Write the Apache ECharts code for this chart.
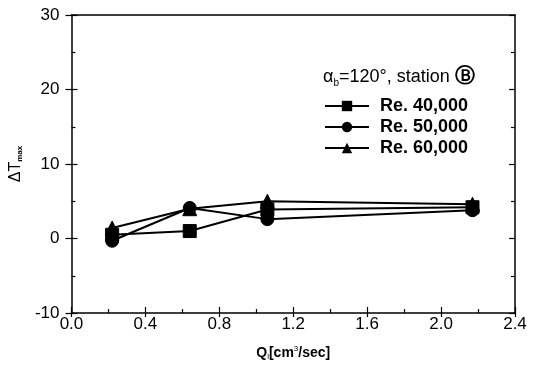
<!DOCTYPE html>
<html>
<head>
<meta charset="utf-8">
<script src="https://cdn.jsdelivr.net/npm/echarts@6/dist/echarts.min.js"></script>
<style>
  html, body { margin: 0; padding: 0; background: #fff; }
  #chart { width: 540px; height: 370px; }
</style>
</head>
<body>
<div id="chart"></div>
<script>
// Injection flow rate Q_l [cm^3/sec] at the measured stations
const flowRates = [0.22, 0.64, 1.06, 2.17];

// Maximum temperature difference for each Reynolds number
const re40000 = [0.5, 1.0, 3.9, 4.2];
const re50000 = [-0.3, 4.1, 2.6, 3.8];
const re60000 = [1.4, 4.0, 5.0, 4.6];

const seriesNames = ['Re. 40,000', 'Re. 50,000', 'Re. 60,000'];
const seriesSymbols = ['rect', 'circle', 'triangle'];

const FONT = '"Liberation Sans", Arial, "DejaVu Sans", sans-serif';

const chart = echarts.init(document.getElementById('chart'), null, { renderer: 'canvas' });

function pairs(xs, ys) {
  return xs.map((x, i) => [x, ys[i]]);
}

const xRange = { min: 0, max: 2.4, interval: 0.4 };
const yRange = { min: -10, max: 30, interval: 10 };
const black = '#000';

const baseX = Object.assign({ type: 'value', splitLine: { show: false } }, xRange);
const baseY = Object.assign({ type: 'value', splitLine: { show: false } }, yRange);

const frameLine = { show: true, onZero: false, lineStyle: { color: black, width: 1.5 } };
const hiddenLine = { show: false, onZero: false };

const option = {
  backgroundColor: '#fff',
  animation: false,
  title: {
    left: 318,
    top: 61,
    text: '{a|α}{s|b}{t|=120°, station }{c|Ⓑ}',
    textStyle: {
      fontWeight: 'normal',
      rich: {
        a: { fontFamily: FONT, fontSize: 18, fontWeight: 'normal', color: black },
        s: { fontFamily: FONT, fontSize: 10, fontWeight: 'normal', color: black, padding: [12, 0, 0, 0] },
        t: { fontFamily: FONT, fontSize: 18, fontWeight: 'normal', color: black },
        c: { fontFamily: '"DejaVu Sans", sans-serif', fontSize: 20, fontWeight: 'bold', color: black }
      }
    }
  },
  legend: {
    orient: 'vertical',
    left: 319,
    top: 92,
    itemWidth: 44,
    itemHeight: 13,
    itemGap: 3,
    data: seriesNames,
    textStyle: {
      fontFamily: FONT,
      fontSize: 18,
      fontWeight: 'bold',
      color: black,
      lineHeight: 18,
      padding: [0, 0, 0, 6]
    }
  },
  grid: { left: 70, right: 25, top: 15, bottom: 57 },
  xAxis: [
    Object.assign({}, baseX, {
      position: 'bottom',
      name: '{q|Q}{l|l}{q|[cm}{u|3}{q|/sec]}',
      nameLocation: 'middle',
      nameGap: 32,
      nameTextStyle: {
        rich: {
          q: { fontFamily: FONT, fontSize: 14, fontWeight: 'bold', color: black },
          l: { fontFamily: FONT, fontSize: 8, color: black, padding: [8, 0, 0, 0] },
          u: { fontFamily: FONT, fontSize: 8, color: black, padding: [0, 0, 8, 0] }
        }
      },
      axisLine: frameLine,
      axisTick: { inside: false, length: 4, lineStyle: { color: black, width: 1.2 } },
      axisLabel: {
        margin: 3,
        fontFamily: FONT,
        fontSize: 17,
        color: black,
        formatter: v => v.toFixed(1)
      }
    }),
    Object.assign({}, baseX, {
      position: 'bottom',
      axisLine: hiddenLine,
      axisLabel: { show: false },
      axisTick: { inside: true, length: 6, lineStyle: { color: black, width: 1.2 } },
      minorTick: { show: true, splitNumber: 2, length: 4, lineStyle: { color: black, width: 1.2 } }
    }),
    Object.assign({}, baseX, {
      position: 'top',
      axisLine: frameLine,
      axisLabel: { show: false },
      axisTick: { show: false }
    })
  ],
  yAxis: [
    Object.assign({}, baseY, {
      position: 'left',
      name: '{d|ΔT}{m|max}',
      nameLocation: 'middle',
      nameGap: 46,
      nameRotate: 90,
      nameTextStyle: {
        rich: {
          d: { fontFamily: FONT, fontSize: 16, color: black },
          m: { fontFamily: FONT, fontSize: 8, fontWeight: 'bold', color: black, padding: [8, 0, 0, 0] }
        }
      },
      axisLine: frameLine,
      axisTick: { inside: false, length: 6, lineStyle: { color: black, width: 1.2 } },
      axisLabel: { margin: 12, fontFamily: FONT, fontSize: 17, color: black }
    }),
    Object.assign({}, baseY, {
      position: 'left',
      axisLine: hiddenLine,
      axisLabel: { show: false },
      axisTick: { inside: true, length: 6, lineStyle: { color: black, width: 1.2 } },
      minorTick: { show: true, splitNumber: 2, length: 4, lineStyle: { color: black, width: 1.2 } }
    }),
    Object.assign({}, baseY, {
      position: 'right',
      axisLine: frameLine,
      axisLabel: { show: false },
      axisTick: { inside: true, length: 6, lineStyle: { color: black, width: 1.2 } },
      minorTick: { show: true, splitNumber: 2, length: 4, lineStyle: { color: black, width: 1.2 } }
    })
  ],
  series: [re40000, re50000, re60000].map((vals, i) => ({
    name: seriesNames[i],
    type: 'line',
    xAxisIndex: 0,
    yAxisIndex: 0,
    data: pairs(flowRates, vals),
    symbol: seriesSymbols[i],
    symbolSize: i === 2 ? 14 : 13,
    showAllSymbol: true,
    lineStyle: { color: black, width: 2 },
    itemStyle: { color: black, borderColor: black },
    z: 3 + i
  }))
};

chart.setOption(option);
</script>
</body>
</html>
